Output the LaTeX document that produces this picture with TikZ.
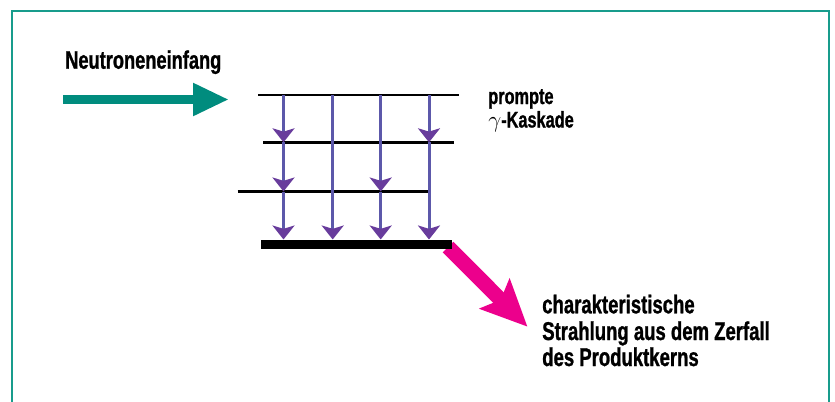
\documentclass[tikz,border=0pt]{standalone}
\usepackage{fontspec}
\newfontfamily\condfont[FakeStretch=0.72,FakeBold=1]{Liberation Sans}
\usetikzlibrary{arrows.meta,calc}
\definecolor{frameteal}{RGB}{24,156,140}
\definecolor{arrowteal}{RGB}{0,140,126}
\definecolor{pinkarrow}{RGB}{236,0,140}
\definecolor{cascline}{RGB}{92,88,170}
\definecolor{caschead}{RGB}{104,60,156}
\begin{document}
\begin{tikzpicture}[x=0.75pt,y=-0.75pt,
  lbl/.style={anchor=base west, inner sep=0pt, font=\condfont\bfseries\fontsize{19.3}{22}\selectfont},
  lblcapt/.style={anchor=base west, inner sep=0pt, font=\condfont\bfseries\fontsize{19}{22}\selectfont},
  lblsmall/.style={anchor=base west, inner sep=0pt, font=\condfont\bfseries\fontsize{17}{20}\selectfont},
  levelline/.style={line width=1.9pt, black},
  groundline/.style={line width=7.2pt, black},
  gammaarrow/.style={draw=cascline, line width=2.25pt,
    -{Stealth[length=10.5pt,width=16.5pt,inset=2.5pt,color=caschead]}},
  captarrow/.style={draw=arrowteal, line width=7.3pt,
    -{Triangle[length=27pt,width=23pt,color=arrowteal]}},
  decayarrow/.style={draw=pinkarrow, line width=11.25pt,
    -{Stealth[length=34.5pt,width=31pt,inset=6pt,color=pinkarrow]}}]
\useasboundingbox (0,0) rectangle (835,401);
% frame
\draw[frameteal, line width=1.5pt] (12,402) -- (12,11) -- (829,11) -- (829,402);

% labels
\node[lblcapt] (capt) at (65,68.7) {Neutroneneinfang};
\node[lblsmall] (prm1) at (488,104) {prompte};
\node[lblsmall] (prm2) at (488,127.5) {$\gamma$-Kaskade};
\node[lbl] (chr1) at (542,313.3) {charakteristische};
\node[lbl] (chr2) at (542,340) {Strahlung aus dem Zerfall};
\node[lbl] (chr3) at (542,366) {des Produktkerns};

% neutron capture arrow
\coordinate (cs) at (63,99.5);
\coordinate (ce) at (229,99.5);
\draw[captarrow] (cs) -- (ce);

% levels
\coordinate (L1a) at (258,95);   \coordinate (L1b) at (459,95);
\coordinate (L2a) at (263,142.3); \coordinate (L2b) at (454,142.3);
\coordinate (L3a) at (237.5,191.5); \coordinate (L3b) at (428.5,191.5);
\coordinate (L4a) at (261,244.3); \coordinate (L4b) at (451.7,244.3);
\coordinate (G) at (0,239.5);

% decay arrow (under the ground bar)
\coordinate (ds) at (448,247);
\coordinate (de) at (527.5,326.7);
\draw[decayarrow] (ds) -- (de);

\draw[levelline] (L1a) -- (L1b);
\draw[levelline] (L2a) -- (L2b);
\draw[levelline] (L3a) -- (L3b);
\draw[groundline] (L4a) -- (L4b);

% columns
\coordinate (C1) at (283.5,0);
\coordinate (C2) at (332.7,0);
\coordinate (C3) at (380.7,0);
\coordinate (C4) at (429,0);

\draw[gammaarrow] (C1 |- L1a) -- (C1 |- L2a);
\draw[gammaarrow] (C1 |- L2a) -- (C1 |- L3a);
\draw[gammaarrow] (C1 |- L3a) -- (C1 |- G);
\draw[gammaarrow] (C2 |- L1a) -- (C2 |- G);
\draw[gammaarrow] (C3 |- L1a) -- (C3 |- L3a);
\draw[gammaarrow] (C3 |- L3a) -- (C3 |- G);
\draw[gammaarrow] (C4 |- L1a) -- (C4 |- L2a);
\draw[gammaarrow] (C4 |- L2a) -- (C4 |- G);
\end{tikzpicture}
\end{document}
